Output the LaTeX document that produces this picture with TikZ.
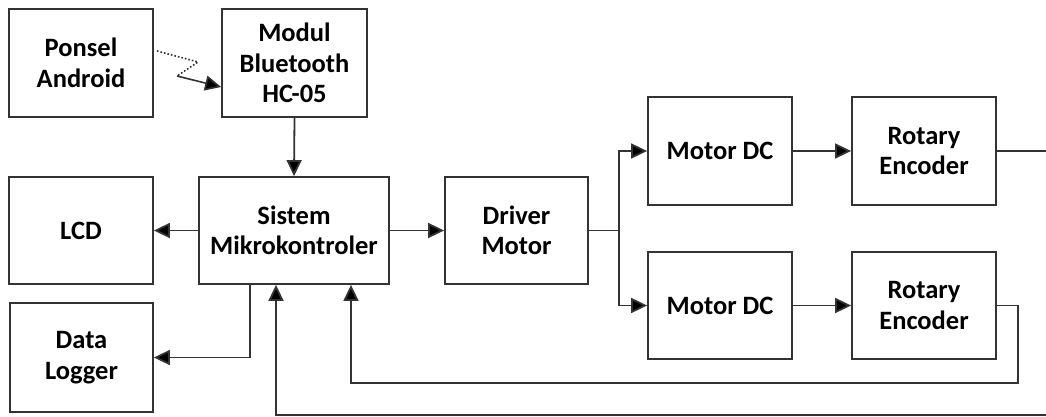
\documentclass[tikz,border=0pt]{standalone}
\usepackage{fontspec}
\setmainfont{Carlito}
\usetikzlibrary{arrows.meta}
\definecolor{ln}{HTML}{333333}
\tikzset{
  blk/.style={draw=ln,line width=1.8pt,rectangle,minimum width=144pt,minimum height=108pt,
    align=center,font=\fontsize{26.5}{30.5}\selectfont\bfseries,inner sep=0pt},
  conn/.style={draw=ln,line width=1.8pt},
  arr/.style={conn,arrows={-Triangle[length=16pt,width=15pt,fill=black]}}
}
\begin{document}
\begin{tikzpicture}[x=1pt,y=-1pt]
\useasboundingbox (0,0) rectangle (1046,417);
\fill[white] (0,0) rectangle (1046,417);
\node[blk] (ponsel) at (81,63) {Ponsel\\Android};
\node[blk,minimum width=145pt] (bt) at (294.5,63) {Modul\\Bluetooth\\HC-05};
\node[blk,minimum height=107pt] (lcd) at (81,230.5) {LCD};
\node[blk,minimum width=190pt,minimum height=107pt] (sis) at (294,230.5) {Sistem\\Mikrokontroler};
\node[blk,minimum width=143pt,minimum height=107pt] (drv) at (516.5,230.5) {Driver\\Motor};
\node[blk,minimum width=143pt,minimum height=109pt] (dl) at (81.5,357.5) {Data\\Logger};
\node[blk] (m1) at (720,151) {Motor DC};
\node[blk] (e1) at (924,151) {Rotary\\Encoder};
\node[blk,minimum height=107pt] (m2) at (720,305.5) {Motor DC};
\node[blk,minimum height=107pt] (e2) at (924,305.5) {Rotary\\Encoder};
% wireless link
\coordinate (w1) at (157,51);
\coordinate (w2) at (198,62);
\coordinate (w3) at (177,76);
\coordinate (w4) at (bt.west |- 0,87);
\draw[conn,line width=1.6pt,dotted] (w1) -- (w2) -- (w3);
\draw[arr,line width=1.6pt] (w3) -- (w4);
% main links
\draw[arr] (bt.south) -- (sis.north);
\draw[arr] (sis.west) -- (lcd.east);
\draw[arr] (sis.south -| 250,0) |- (dl.east);
\draw[arr] (sis.east) -- (drv.west);
\coordinate (br) at (619,230.5);
\draw[conn] (drv.east) -- (br);
\draw[arr] (br) |- (m1.west);
\draw[arr] (br) |- (m2.west);
\draw[arr] (m1.east) -- (e1.west);
\draw[arr] (m2.east) -- (e2.west);
\coordinate (edge1) at (1046,151);
\draw[conn] (e1.east) -- (edge1);
\coordinate (fb1) at (1018,383);
\draw[arr] (e2.east) -| (fb1) -| (sis.south -| 351,0);
\coordinate (edge2) at (1046,415);
\draw[arr] (edge2) -| (sis.south -| 276,0);
\end{tikzpicture}
\end{document}
